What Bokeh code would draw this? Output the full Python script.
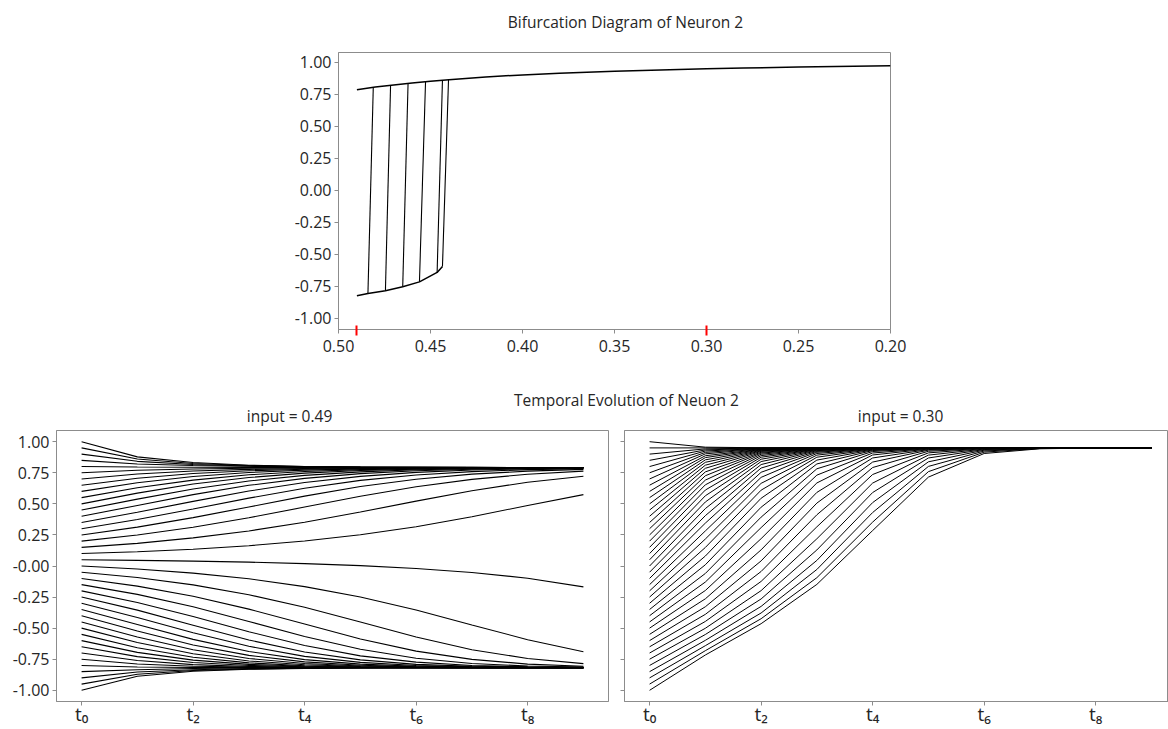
from bokeh.plotting import figure
from bokeh.layouts import column, row
from bokeh.models import FixedTicker, Range1d
from bokeh.core.properties import value
from bokeh.embed import file_html
from bokeh.resources import INLINE

# ---------------- bifurcation diagram (steady state of neuron 2 vs input) ----------------
upper_input = [0.49, 0.48, 0.47, 0.46, 0.45, 0.44, 0.42, 0.40, 0.38, 0.35, 0.32, 0.30, 0.28, 0.25, 0.22, 0.20]
upper_state = [0.787, 0.808, 0.824, 0.839, 0.853, 0.866, 0.887, 0.903, 0.916, 0.931, 0.944, 0.951, 0.957, 0.964, 0.970, 0.974]

lower_input = [0.49, 0.484, 0.4745, 0.4651, 0.456, 0.4464, 0.4435]
lower_state = [-0.823, -0.805, -0.783, -0.752, -0.714, -0.640, -0.594]

# jumps from the lower branch to the upper branch
jump_from_input = [0.4840, 0.4745, 0.4651, 0.4560, 0.4464, 0.4435]
jump_from_state = [-0.805, -0.783, -0.752, -0.714, -0.640, -0.594]
jump_to_input = [0.4811, 0.4717, 0.4622, 0.4527, 0.4435, 0.4402]
jump_to_state = [0.807, 0.822, 0.836, 0.850, 0.864, 0.868]

# inputs used for the two temporal-evolution panels
marked_inputs = [0.49, 0.30]

bif_xticks = [0.50, 0.45, 0.40, 0.35, 0.30, 0.25, 0.20]
state_ticks = [1.0, 0.75, 0.5, 0.25, 0.0, -0.25, -0.5, -0.75, -1.0]
bif_ytick_labels = ["1.00", "0.75", "0.50", "0.25", "0.00", "-0.25", "-0.50", "-0.75", "-1.00"]
evo_ytick_labels = ["1.00", "0.75", "0.50", "0.25", "-0.00", "-0.25", "-0.50", "-0.75", "-1.00"]

# ---------------- temporal evolution, one row per initial state ----------------
time_steps = [0, 1, 2, 3, 4, 5, 6, 7, 8, 9]
time_ticks = [0, 2, 4, 6, 8]
time_labels = ["t\u2080", "t\u2082", "t\u2084", "t\u2086", "t\u2088"]

paths_049 = [
    [1.00, 0.878, 0.832, 0.811, 0.801, 0.796, 0.794, 0.793, 0.792, 0.792],
    [0.95, 0.861, 0.825, 0.808, 0.800, 0.796, 0.794, 0.793, 0.792, 0.792],
    [0.90, 0.842, 0.816, 0.804, 0.798, 0.795, 0.793, 0.792, 0.792, 0.792],
    [0.85, 0.820, 0.808, 0.802, 0.797, 0.794, 0.793, 0.792, 0.792, 0.792],
    [0.80, 0.796, 0.794, 0.793, 0.792, 0.792, 0.792, 0.792, 0.792, 0.792],
    [0.75, 0.770, 0.780, 0.786, 0.789, 0.790, 0.791, 0.792, 0.792, 0.792],
    [0.70, 0.740, 0.764, 0.777, 0.784, 0.788, 0.790, 0.791, 0.792, 0.792],
    [0.65, 0.706, 0.744, 0.766, 0.778, 0.785, 0.788, 0.790, 0.791, 0.792],
    [0.60, 0.670, 0.720, 0.752, 0.771, 0.781, 0.786, 0.789, 0.790, 0.791],
    [0.55, 0.629, 0.691, 0.734, 0.760, 0.775, 0.783, 0.787, 0.789, 0.791],
    [0.50, 0.586, 0.659, 0.712, 0.747, 0.768, 0.779, 0.785, 0.788, 0.790],
    [0.45, 0.538, 0.619, 0.684, 0.729, 0.757, 0.774, 0.782, 0.787, 0.789],
    [0.40, 0.487, 0.574, 0.649, 0.705, 0.743, 0.766, 0.778, 0.785, 0.788],
    [0.35, 0.432, 0.520, 0.603, 0.672, 0.721, 0.753, 0.772, 0.781, 0.786],
    [0.30, 0.374, 0.458, 0.546, 0.626, 0.689, 0.732, 0.759, 0.775, 0.783],
    [0.25, 0.313, 0.389, 0.475, 0.562, 0.639, 0.698, 0.739, 0.763, 0.777],
    [0.20, 0.249, 0.312, 0.388, 0.474, 0.561, 0.638, 0.697, 0.738, 0.763],
    [0.15, 0.182, 0.226, 0.282, 0.352, 0.434, 0.522, 0.605, 0.674, 0.722],
    [0.10, 0.115, 0.135, 0.163, 0.201, 0.251, 0.316, 0.396, 0.487, 0.574],
    [0.05, 0.045, 0.039, 0.031, 0.019, 0.003, -0.020, -0.052, -0.098, -0.168],
    [0.00, -0.024, -0.057, -0.103, -0.166, -0.249, -0.354, -0.474, -0.593, -0.690],
    [-0.05, -0.093, -0.152, -0.231, -0.332, -0.450, -0.571, -0.674, -0.744, -0.785],
    [-0.10, -0.162, -0.244, -0.347, -0.467, -0.587, -0.685, -0.751, -0.789, -0.807],
    [-0.15, -0.228, -0.328, -0.446, -0.567, -0.670, -0.742, -0.784, -0.805, -0.813],
    [-0.20, -0.293, -0.406, -0.529, -0.640, -0.723, -0.773, -0.800, -0.811, -0.815],
    [-0.25, -0.355, -0.476, -0.595, -0.692, -0.755, -0.791, -0.806, -0.813, -0.816],
    [-0.30, -0.414, -0.537, -0.646, -0.727, -0.775, -0.800, -0.811, -0.815, -0.817],
    [-0.35, -0.471, -0.590, -0.688, -0.753, -0.789, -0.806, -0.813, -0.816, -0.817],
    [-0.40, -0.523, -0.635, -0.719, -0.771, -0.798, -0.810, -0.815, -0.817, -0.818],
    [-0.45, -0.571, -0.674, -0.744, -0.784, -0.804, -0.813, -0.816, -0.817, -0.818],
    [-0.50, -0.616, -0.706, -0.764, -0.794, -0.808, -0.814, -0.817, -0.818, -0.818],
    [-0.55, -0.657, -0.734, -0.779, -0.802, -0.812, -0.816, -0.817, -0.818, -0.818],
    [-0.60, -0.695, -0.757, -0.791, -0.807, -0.814, -0.817, -0.818, -0.818, -0.818],
    [-0.65, -0.729, -0.776, -0.800, -0.811, -0.816, -0.817, -0.818, -0.818, -0.818],
    [-0.70, -0.760, -0.793, -0.808, -0.814, -0.817, -0.818, -0.818, -0.818, -0.818],
    [-0.75, -0.788, -0.806, -0.813, -0.816, -0.817, -0.818, -0.818, -0.818, -0.818],
    [-0.80, -0.812, -0.816, -0.817, -0.818, -0.818, -0.818, -0.818, -0.818, -0.818],
    [-0.85, -0.834, -0.825, -0.821, -0.819, -0.818, -0.818, -0.818, -0.818, -0.818],
    [-0.90, -0.853, -0.834, -0.825, -0.821, -0.819, -0.818, -0.818, -0.818, -0.818],
    [-0.95, -0.871, -0.841, -0.828, -0.822, -0.820, -0.819, -0.818, -0.818, -0.818],
    [-1.00, -0.887, -0.847, -0.831, -0.824, -0.820, -0.819, -0.818, -0.818, -0.818],
]

paths_030 = [
    [1.00, 0.956, 0.951, 0.950, 0.950, 0.950, 0.950, 0.950, 0.950, 0.950],
    [0.95, 0.950, 0.950, 0.950, 0.950, 0.950, 0.950, 0.950, 0.950, 0.950],
    [0.90, 0.942, 0.949, 0.950, 0.950, 0.950, 0.950, 0.950, 0.950, 0.950],
    [0.85, 0.934, 0.947, 0.950, 0.950, 0.950, 0.950, 0.950, 0.950, 0.950],
    [0.80, 0.925, 0.946, 0.949, 0.950, 0.950, 0.950, 0.950, 0.950, 0.950],
    [0.75, 0.914, 0.945, 0.949, 0.950, 0.950, 0.950, 0.950, 0.950, 0.950],
    [0.70, 0.902, 0.943, 0.949, 0.950, 0.950, 0.950, 0.950, 0.950, 0.950],
    [0.65, 0.887, 0.940, 0.948, 0.950, 0.950, 0.950, 0.950, 0.950, 0.950],
    [0.60, 0.872, 0.938, 0.948, 0.950, 0.950, 0.950, 0.950, 0.950, 0.950],
    [0.55, 0.854, 0.935, 0.947, 0.950, 0.950, 0.950, 0.950, 0.950, 0.950],
    [0.50, 0.834, 0.931, 0.947, 0.950, 0.950, 0.950, 0.950, 0.950, 0.950],
    [0.45, 0.811, 0.927, 0.946, 0.949, 0.950, 0.950, 0.950, 0.950, 0.950],
    [0.40, 0.786, 0.922, 0.946, 0.949, 0.950, 0.950, 0.950, 0.950, 0.950],
    [0.35, 0.757, 0.915, 0.945, 0.949, 0.950, 0.950, 0.950, 0.950, 0.950],
    [0.30, 0.726, 0.908, 0.944, 0.949, 0.950, 0.950, 0.950, 0.950, 0.950],
    [0.25, 0.691, 0.899, 0.942, 0.949, 0.950, 0.950, 0.950, 0.950, 0.950],
    [0.20, 0.653, 0.888, 0.940, 0.948, 0.950, 0.950, 0.950, 0.950, 0.950],
    [0.15, 0.611, 0.875, 0.938, 0.948, 0.950, 0.950, 0.950, 0.950, 0.950],
    [0.10, 0.565, 0.859, 0.936, 0.948, 0.950, 0.950, 0.950, 0.950, 0.950],
    [0.05, 0.515, 0.840, 0.932, 0.947, 0.950, 0.950, 0.950, 0.950, 0.950],
    [0.00, 0.462, 0.816, 0.928, 0.947, 0.949, 0.950, 0.950, 0.950, 0.950],
    [-0.05, 0.405, 0.788, 0.922, 0.946, 0.949, 0.950, 0.950, 0.950, 0.950],
    [-0.10, 0.345, 0.754, 0.915, 0.945, 0.949, 0.950, 0.950, 0.950, 0.950],
    [-0.15, 0.282, 0.713, 0.905, 0.943, 0.949, 0.950, 0.950, 0.950, 0.950],
    [-0.20, 0.217, 0.665, 0.892, 0.941, 0.948, 0.950, 0.950, 0.950, 0.950],
    [-0.25, 0.149, 0.610, 0.875, 0.938, 0.948, 0.950, 0.950, 0.950, 0.950],
    [-0.30, 0.080, 0.545, 0.852, 0.934, 0.947, 0.950, 0.950, 0.950, 0.950],
    [-0.35, 0.010, 0.473, 0.821, 0.929, 0.947, 0.949, 0.950, 0.950, 0.950],
    [-0.40, -0.060, 0.393, 0.782, 0.921, 0.946, 0.949, 0.950, 0.950, 0.950],
    [-0.45, -0.129, 0.309, 0.731, 0.909, 0.944, 0.949, 0.950, 0.950, 0.950],
    [-0.50, -0.197, 0.220, 0.668, 0.893, 0.941, 0.948, 0.950, 0.950, 0.950],
    [-0.55, -0.264, 0.130, 0.592, 0.869, 0.937, 0.948, 0.950, 0.950, 0.950],
    [-0.60, -0.328, 0.041, 0.506, 0.836, 0.932, 0.947, 0.950, 0.950, 0.950],
    [-0.65, -0.389, -0.044, 0.412, 0.792, 0.923, 0.946, 0.949, 0.950, 0.950],
    [-0.70, -0.446, -0.124, 0.315, 0.736, 0.910, 0.944, 0.949, 0.950, 0.950],
    [-0.75, -0.501, -0.198, 0.219, 0.667, 0.892, 0.941, 0.948, 0.950, 0.950],
    [-0.80, -0.551, -0.265, 0.129, 0.591, 0.869, 0.937, 0.948, 0.950, 0.950],
    [-0.85, -0.598, -0.325, 0.045, 0.510, 0.838, 0.932, 0.947, 0.950, 0.950],
    [-0.90, -0.641, -0.378, -0.028, 0.430, 0.801, 0.925, 0.946, 0.949, 0.950],
    [-0.95, -0.681, -0.424, -0.094, 0.353, 0.759, 0.916, 0.945, 0.949, 0.950],
    [-1.00, -0.716, -0.464, -0.148, 0.285, 0.715, 0.905, 0.943, 0.949, 0.950],
]

FONT = "Open Sans"
INK = "#262626"
SPINE = "#8c8c8c"
PAGE_W = 1168


def style(p):
    p.grid.visible = False
    p.outline_line_color = SPINE
    p.outline_line_width = 1
    p.border_fill_color = "white"
    for ax in p.axis:
        ax.axis_line_color = SPINE
        ax.major_tick_line_color = SPINE
        ax.minor_tick_line_color = None
        ax.major_tick_in = 0
        ax.major_tick_out = 4
        ax.major_label_text_font = FONT
        ax.major_label_text_font_size = "16px"
        ax.major_label_text_color = INK
        ax.major_label_standoff = 3


def banner(height, xs, baselines, texts):
    """A strip without axes that carries headings; positions are page pixels from its top-left."""
    b = figure(width=PAGE_W, height=height, x_range=Range1d(0, PAGE_W), y_range=Range1d(height, 0),
               x_axis_type=None, y_axis_type=None, output_backend="svg", toolbar_location=None,
               min_border=0, outline_line_color=None)
    b.grid.visible = False
    b.text(x=xs, y=baselines, text=texts, text_font=value(FONT), text_font_size="15.5px",
           text_color=INK, text_align="center", text_baseline="alphabetic")
    return b


# ---------------- headings ----------------
head_top = banner(44, [625], [21.0], ["Bifurcation Diagram of Neuron 2"])
head_mid = banner(40, [626, 289, 900], [11.5, 27.5, 27.5],
                  ["Temporal Evolution of Neuon 2", "input = 0.49", "input = 0.30"])

# ---------------- top: bifurcation diagram ----------------
top = figure(width=PAGE_W, height=344, x_range=Range1d(0.50, 0.20), y_range=Range1d(-1.086, 1.078),
             output_backend="svg", toolbar_location=None,
             min_border_left=338, min_border_right=278, min_border_top=8, min_border_bottom=59)
style(top)
top.xaxis.ticker = FixedTicker(ticks=bif_xticks, minor_ticks=marked_inputs)
top.xaxis.major_label_overrides = {t: "%.2f" % t for t in bif_xticks}
top.xaxis.major_label_standoff = 4
top.xaxis.minor_tick_line_color = "red"
top.xaxis.minor_tick_line_width = 2
top.xaxis.minor_tick_in = 4
top.xaxis.minor_tick_out = 6
top.yaxis.ticker = FixedTicker(ticks=state_ticks)
top.yaxis.major_label_overrides = dict(zip(state_ticks, bif_ytick_labels))

top.line(upper_input, upper_state, line_color="black", line_width=1.5)
top.line(lower_input, lower_state, line_color="black", line_width=1.5)
top.segment(x0=jump_from_input, y0=jump_from_state, x1=jump_to_input, y1=jump_to_state,
            line_color="black", line_width=1.1)


# ---------------- bottom: temporal evolution ----------------
def evolution(paths, width, x_end, border_left, border_right, labelled, lw):
    p = figure(width=width, height=301, x_range=Range1d(-0.45, x_end), y_range=Range1d(-1.09, 1.09),
               output_backend="svg", toolbar_location=None,
               min_border_left=border_left, min_border_right=border_right,
               min_border_top=2, min_border_bottom=23)
    style(p)
    p.xaxis.ticker = FixedTicker(ticks=time_ticks)
    p.xaxis.major_label_overrides = dict(zip(time_ticks, time_labels))
    p.xaxis.major_label_text_font_size = "19px"
    p.xaxis.major_label_standoff = -5
    p.yaxis.ticker = FixedTicker(ticks=state_ticks)
    if labelled:
        p.yaxis.major_label_overrides = dict(zip(state_ticks, evo_ytick_labels))
    else:
        p.yaxis.major_label_overrides = {t: "" for t in state_ticks}
        p.yaxis.major_label_standoff = 0
    p.multi_line(xs=[time_steps] * len(paths), ys=paths, line_color="black", line_width=lw)
    return p


left = evolution(paths_049, 612, 9.45, 56, 4, True, 1.1)
right = evolution(paths_030, 556, 9.306, 12, 0, False, 1.0)

layout = column(row(head_top), top, row(head_mid), row(left, right))
open("out.html", "w").write(file_html(layout, INLINE))
